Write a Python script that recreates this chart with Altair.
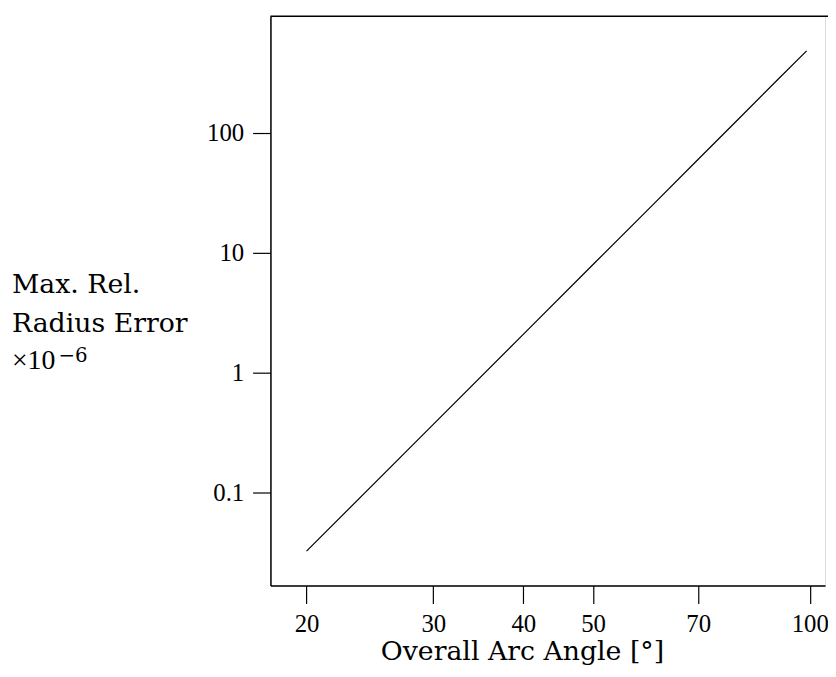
import altair as alt
import pandas as pd

# Data (log-log straight line)
angle = [20, 30, 40, 50, 60, 70, 80, 90, 99]
error = [0.0327, 0.372, 2.09, 7.98, 23.8, 60.1, 134, 272, 481]
x_ticks = [20, 30, 40, 50, 70, 100]
y_ticks = [0.1, 1, 10, 100]
x_domain = [17.82, 105.0]
y_domain = [0.0169, 935]
y_title_lines = ["Max. Rel.", "Radius Error"]
y_title_factor = "×10"
y_title_exp = "−6"

df = pd.DataFrame({"angle": angle, "error": error})
one = pd.DataFrame({"k": [0]})

W, H = 560, 575
LABEL_FONT = "Liberation Serif"
TITLE_FONT = "DejaVu Serif"

line = alt.Chart(df).mark_line(color="black", strokeWidth=1.2, clip=True).encode(
    x=alt.X(
        "angle:Q",
        scale=alt.Scale(type="log", domain=x_domain, nice=False, zero=False),
        axis=alt.Axis(
            values=x_ticks,
            format="~g",
            grid=False,
            domainColor="black",
            domainWidth=1.5,
            tickColor="black",
            tickWidth=1.2,
            tickSize=18,
            labelFont=LABEL_FONT,
            labelFontSize=25,
            labelColor="black",
            labelPadding=8,
            labelFlush=False,
            labelOverlap=False,
            title="Overall Arc Angle [°]",
            titleFont=TITLE_FONT,
            titleFontSize=27,
            titleFontWeight="normal",
            titleColor="black",
            titleX=254,
            titleY=75,
            titleAlign="center",
            titleBaseline="alphabetic",
        ),
    ),
    y=alt.Y(
        "error:Q",
        scale=alt.Scale(type="log", domain=y_domain, nice=False, zero=False),
        axis=alt.Axis(
            values=y_ticks,
            format="~g",
            grid=False,
            domainColor="black",
            domainWidth=1.5,
            tickColor="black",
            tickWidth=1.2,
            tickSize=18,
            labelFont=LABEL_FONT,
            labelFontSize=25,
            labelColor="black",
            labelPadding=9,
            labelFlush=False,
            labelOverlap=False,
            title=None,
        ),
    ),
)

top_rule = alt.Chart(one).mark_rule(color="black", strokeWidth=1.5).encode(
    x=alt.value(0), x2=alt.value(W + 3), y=alt.value(0)
)


def label(text, x, y, font, size):
    return alt.Chart(one).mark_text(
        font=font, fontSize=size, color="black", align="left", baseline="alphabetic"
    ).encode(x=alt.value(x), y=alt.value(y), text=alt.value(text))


t1 = label(y_title_lines[0], -261, 280, TITLE_FONT, 27)
t2 = label(y_title_lines[1], -261, 319, TITLE_FONT, 27)
t3 = label(y_title_factor, -261, 356, LABEL_FONT, 28)
t4 = label(y_title_exp, -214, 349, TITLE_FONT, 20)

chart = (
    alt.layer(line, top_rule, t1, t2, t3, t4)
    .properties(
        width=W,
        height=H,
        autosize=alt.AutoSizeParams(type="none"),
        padding={"left": 265, "top": 5, "right": 3, "bottom": 84},
    )
    .configure_view(stroke=None)
    .configure(background="white")
)

chart.save("out.html", embed_options={"renderer": "svg", "actions": False})
